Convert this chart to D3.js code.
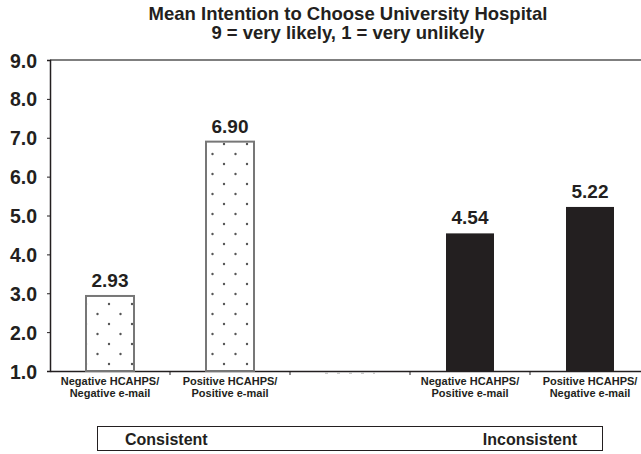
<!DOCTYPE html>
<html>
<head>
<meta charset="utf-8">
<script src="https://cdn.jsdelivr.net/npm/d3@7"></script>
<style>
  body { margin: 0; background: #fff; }
  text { font-family: "Liberation Sans", Arial, sans-serif; font-weight: bold; fill: #231f20; }
</style>
</head>
<body>
<div id="chart"></div>
<script>
let w = 641;
let h = 454;

// data
let categories = ["c1", "c2", "gap", "c4", "c5"];
let labelsTop = ["Negative HCAHPS/", "Positive HCAHPS/", "", "Negative HCAHPS/", "Positive HCAHPS/"];
let labelsBottom = ["Negative e-mail", "Positive e-mail", "", "Positive e-mail", "Negative e-mail"];
let values = [2.93, 6.90, 1.0, 4.54, 5.22];
let kinds = ["dots", "dots", "ghost", "solid", "solid"];
let yTicks = [1, 2, 3, 4, 5, 6, 7, 8, 9];
let groupLabels = ["Consistent", "Inconsistent"];

let viz = d3.select("#chart").append("svg")
  .attr("width", w)
  .attr("height", h);

let defs = viz.append("defs");
let pat = defs.append("pattern")
  .attr("id", "dots")
  .attr("patternUnits", "userSpaceOnUse")
  .attr("width", 23).attr("height", 20)
  .attr("x", 86).attr("y", 4);
pat.append("rect").attr("width", 23).attr("height", 20).attr("fill", "#fff");
[[0, 0], [23, 0], [11.5, 10], [0, 20], [23, 20]].forEach(p => {
  pat.append("circle").attr("cx", p[0]).attr("cy", p[1]).attr("r", 1.2).attr("fill", "#555");
});

let padLeft = 50, padTop = 60, padBottom = 371;
let xScale = d3.scaleBand().domain(categories).range([padLeft, padLeft + 600]).paddingInner(0).paddingOuter(0);
let yScale = d3.scaleLinear().domain([1, 9]).range([padBottom, padTop]);

// title
viz.append("text").attr("x", 348).attr("y", 20).attr("text-anchor", "middle")
  .attr("font-size", 18.5).text("Mean Intention to Choose University Hospital");
viz.append("text").attr("x", 348).attr("y", 39).attr("text-anchor", "middle")
  .attr("font-size", 18.5).text("9 = very likely, 1 = very unlikely");

// top border
viz.append("line").attr("x1", padLeft).attr("x2", w).attr("y1", padTop).attr("y2", padTop)
  .attr("stroke", "#555").attr("stroke-width", 1.5);

// y axis
let yAxis = d3.axisLeft(yScale).tickValues(yTicks).tickFormat(d3.format(".1f")).tickSize(3);
let yg = viz.append("g").attr("transform", "translate(" + padLeft + ",0)").call(yAxis);
yg.select(".domain").attr("stroke", "#231f20").attr("stroke-width", 1.5);
yg.selectAll(".tick line").attr("stroke", "#231f20");
yg.selectAll(".tick text").attr("font-size", 19.5).attr("font-family", "Liberation Sans, Arial, sans-serif")
  .attr("font-weight", "bold").attr("fill", "#231f20").attr("x", -13).attr("dy", "0.36em");

// x axis
let xAxis = d3.axisBottom(xScale).tickSize(0).tickFormat("");
let xg = viz.append("g").attr("transform", "translate(0," + padBottom + ")").call(xAxis);
xg.select(".domain").attr("stroke", "#231f20").attr("stroke-width", 1.5);
xg.selectAll(".tick").remove();
categories.slice(1).forEach(c => {
  xg.append("line").attr("x1", xScale(c)).attr("x2", xScale(c)).attr("y1", 0).attr("y2", 4)
    .attr("stroke", "#231f20");
});

// bars
let barW = 48;
let idx = d3.range(values.length);
viz.selectAll(".bar").data(idx.filter(i => kinds[i] != "ghost")).enter()
  .append("rect")
  .attr("class", "bar")
  .attr("x", i => xScale(categories[i]) + xScale.bandwidth() / 2 - barW / 2)
  .attr("y", i => yScale(values[i]))
  .attr("width", barW)
  .attr("height", i => yScale(1) - yScale(values[i]))
  .attr("fill", i => kinds[i] == "dots" ? "url(#dots)" : "#231f20")
  .attr("stroke", i => kinds[i] == "dots" ? "#777" : "none")
  .attr("stroke-width", 2);

// faint empty category marks
idx.filter(i => kinds[i] == "ghost").forEach(i => {
  let cx = xScale(categories[i]) + xScale.bandwidth() / 2;
  viz.append("line").attr("x1", cx - 25).attr("x2", cx + 25)
    .attr("y1", yScale(values[i]) + 2).attr("y2", yScale(values[i]) + 2)
    .attr("stroke", "#bbb").attr("stroke-width", 1.5).attr("stroke-dasharray", "3,9");
});

// value labels
viz.selectAll(".val").data(idx.filter(i => kinds[i] != "ghost")).enter()
  .append("text")
  .attr("x", i => xScale(categories[i]) + xScale.bandwidth() / 2)
  .attr("y", i => yScale(values[i]) - 9)
  .attr("text-anchor", "middle")
  .attr("font-size", 19)
  .text(i => values[i].toFixed(2));

// category labels
idx.forEach(i => {
  let cx = xScale(categories[i]) + xScale.bandwidth() / 2;
  viz.append("text").attr("x", cx).attr("y", 385).attr("text-anchor", "middle")
    .attr("font-size", 11).text(labelsTop[i]);
  viz.append("text").attr("x", cx).attr("y", 397).attr("text-anchor", "middle")
    .attr("font-size", 11).text(labelsBottom[i]);
});

// group box
viz.append("rect").attr("x", 97.5).attr("y", 426.5).attr("width", 505).attr("height", 24)
  .attr("fill", "none").attr("stroke", "#231f20").attr("stroke-width", 1);
viz.append("text").attr("x", 125).attr("y", 445).attr("font-size", 16).text(groupLabels[0]);
viz.append("text").attr("x", 577).attr("y", 445).attr("text-anchor", "end").attr("font-size", 16).text(groupLabels[1]);
</script>
</body>
</html>
